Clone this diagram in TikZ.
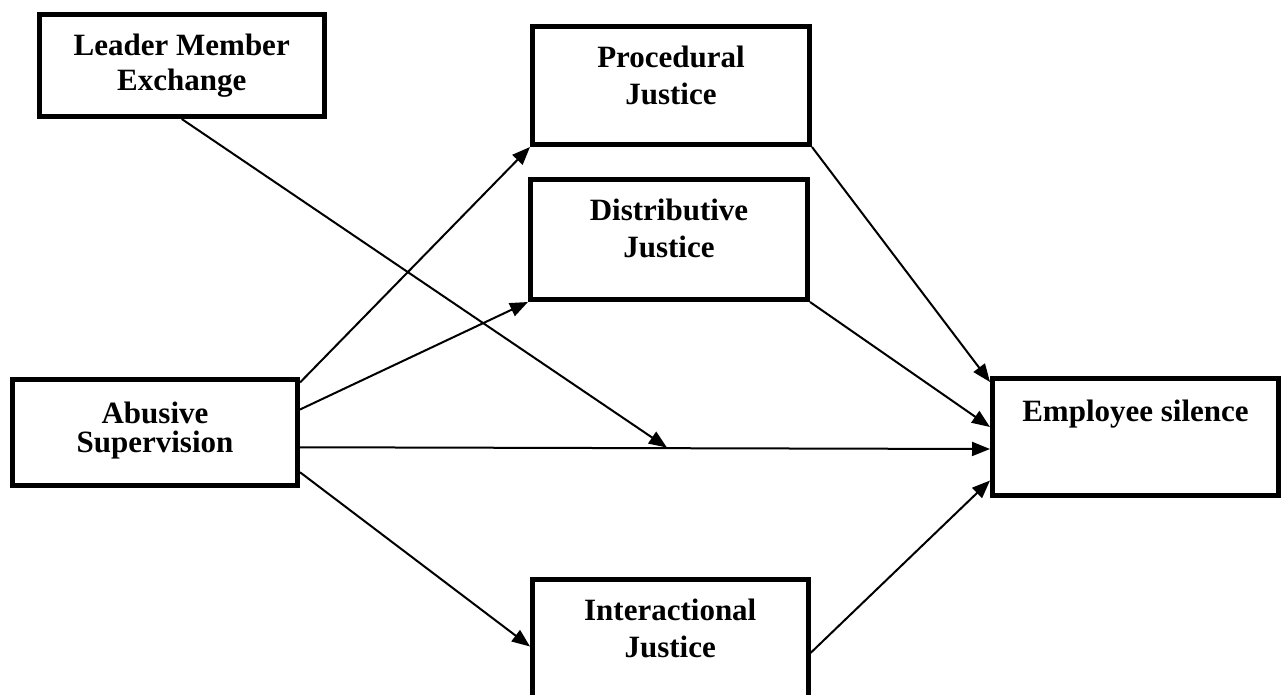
\documentclass[tikz,border=0pt]{standalone}
\usepackage{fontspec}
\setmainfont{Liberation Serif}
\usepackage{tikz}
\usetikzlibrary{arrows.meta}

\tikzset{
    concept/.style={draw, line width=5pt, inner sep=0pt, font=\bfseries\fontsize{31}{36}\selectfont},
    link/.style={line width=2pt, -{Triangle[length=18pt,width=14pt]}}
}

% box text, set from the top: height, width, first baseline, text
\newcommand{\boxtext}[4]{\parbox[c][#1pt][t]{#2pt}{\centering\rule{0pt}{#3pt}#4}}

\begin{document}
\begin{tikzpicture}
                [line join=miter,x=1pt,y=-1pt]
                
                \useasboundingbox (0,0) rectangle (1282,694);
                
                \node[concept] (lmx)   at ( 181.75,  65.5) {\boxtext{102}{284.5}{40.5}{Leader Member\\[-1pt]Exchange}};
                \node[concept] (proc)  at ( 671.0,   85.25) {\boxtext{118.5}{277}{41}{Procedural\\[1pt]Justice}};
                \node[concept] (dist)  at ( 669.0,  239.25) {\boxtext{120.5}{277}{41.5}{Distributive\\[1pt]Justice}};
                \node[concept] (abs)   at ( 155.0,  432.25) {\boxtext{106.5}{285}{44}{Abusive\\[-7pt]Supervision}};
                \node[concept] (emp)   at (1135.5,  437.0) {\boxtext{117}{286}{42.5}{Employee silence}};
                \node[concept] (inter) at ( 670.25, 639.0) {\boxtext{120}{275.5}{41}{Interactional\\[1pt]Justice}};
                
                % point on the direct path where the moderator meets it
                \coordinate (mod) at (667, 447.6);
                
                \draw[link] ([yshift=-6pt]abs.north east) -- (proc.south west);
                \draw[link] ([yshift=-33pt]abs.north east) -- (dist.south west);
                \draw[link] ([yshift=-15pt]abs.east) -- ([yshift=-12pt]emp.west);
                \draw[link] ([yshift=-40pt]abs.east) -- ([yshift=-70pt]inter.north west);
                
                \draw[link] (proc.south east) -- ([yshift=-6pt]emp.north west);
                \draw[link] (dist.south east) -- ([yshift=10pt]emp.west);
                \draw[link] ([yshift=-14pt]inter.east) -- ([yshift=17.5pt]emp.south west);
                
                \draw[link] (lmx.south) -- (mod);
            \end{tikzpicture}
\end{document}
